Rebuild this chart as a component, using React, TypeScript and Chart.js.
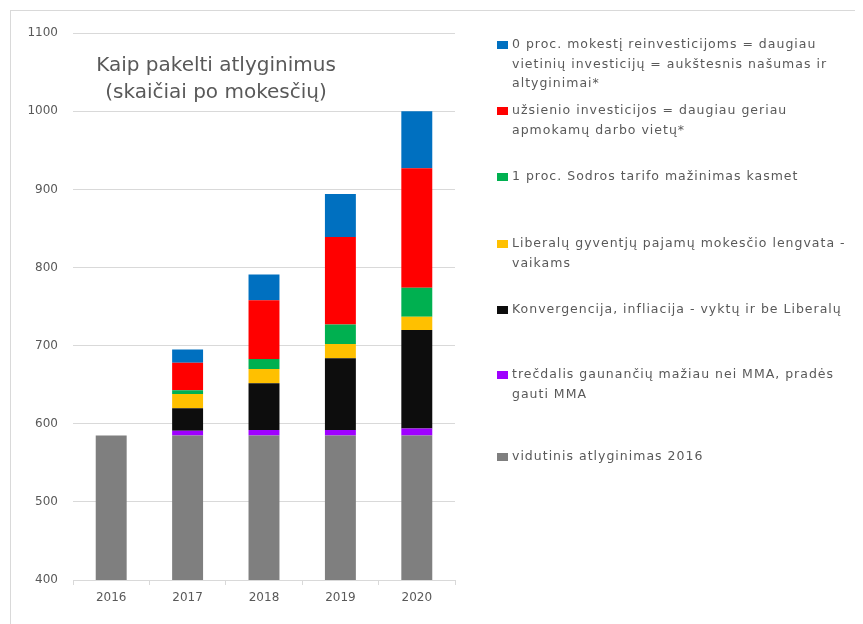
import React, { useEffect, useRef } from "react";
import { Chart, registerables } from "chart.js";

Chart.register(...registerables);

const categories = ["2016", "2017", "2018", "2019", "2020"];
const baseWage = [585, 585, 585, 585, 585];
const minWage = [0, 6, 7, 7, 9];
const convergence = [0, 29, 60, 92, 126];
const childRelief = [0, 18, 18, 18, 17];
const sodraCut = [0, 5, 13, 25, 37];
const foreignInv = [0, 35, 75, 112, 153];
const reinvest = [0, 17, 33, 55, 73];
const yTicks = [400, 500, 600, 700, 800, 900, 1000, 1100];

const titleLines = ["Kaip pakelti atlyginimus", "(skaičiai po mokesčių)"];

const legendLabels: string[][] = [
  ["0 proc. mokestį reinvesticijoms = daugiau", "vietinių investicijų = aukštesnis našumas ir", "altyginimai*"],
  ["užsienio investicijos = daugiau geriau", "apmokamų darbo vietų*"],
  ["1 proc. Sodros tarifo mažinimas kasmet"],
  ["Liberalų gyventjų pajamų mokesčio lengvata -", "vaikams"],
  ["Konvergencija, infliacija - vyktų ir be Liberalų"],
  ["trečdalis gaunančių mažiau nei MMA, pradės", "gauti MMA"],
  ["vidutinis atlyginimas 2016"],
];
const legendColors = ["#0070c0", "#ff0000", "#00b050", "#ffc000", "#0d0d0d", "#9f00ff", "#7f7f7f"];
const legendFirstLineY = [34, 100, 166, 233, 299, 364, 446];

const TEXT = "#595959";
const FONT = "'DejaVu Sans', sans-serif";

const overlayPlugin = {
  id: "overlay",
  afterDraw(chart: any) {
    const ctx = chart.ctx;
    ctx.save();
    ctx.fillStyle = TEXT;
    ctx.textAlign = "center";
    ctx.textBaseline = "middle";
    ctx.font = `20px ${FONT}`;
    ctx.fillText(titleLines[0], 205, 55);
    ctx.fillText(titleLines[1], 205, 82);

    ctx.textAlign = "left";
    ctx.font = `12.5px ${FONT}`;
    (ctx as any).letterSpacing = "1px";
    legendLabels.forEach((lines, i) => {
      const y0 = legendFirstLineY[i];
      ctx.fillStyle = legendColors[i];
      ctx.fillRect(486, y0 - 4, 11, 8);
      ctx.fillStyle = TEXT;
      lines.forEach((ln, j) => {
        ctx.fillText(ln, 501, y0 + j * 19.5);
      });
    });
    ctx.restore();
  },
};

export default function App() {
  const ref = useRef<HTMLCanvasElement>(null);
  useEffect(() => {
    if (!ref.current) return;
    const mk = (label: string, data: number[], color: string) => ({
      label,
      data,
      backgroundColor: color,
      borderWidth: 0,
      barPercentage: 0.405,
      categoryPercentage: 1,
      stack: "s",
    });
    const chart = new Chart(ref.current, {
      type: "bar",
      data: {
        labels: categories,
        datasets: [
          mk(legendLabels[6].join(" "), baseWage, legendColors[6]),
          mk(legendLabels[5].join(" "), minWage, legendColors[5]),
          mk(legendLabels[4].join(" "), convergence, legendColors[4]),
          mk(legendLabels[3].join(" "), childRelief, legendColors[3]),
          mk(legendLabels[2].join(" "), sodraCut, legendColors[2]),
          mk(legendLabels[1].join(" "), foreignInv, legendColors[1]),
          mk(legendLabels[0].join(" "), reinvest, legendColors[0]),
        ],
      },
      options: {
        animation: false,
        responsive: false,
        layout: { padding: { top: 22, right: 402, left: 0, bottom: 0 } },
        plugins: { legend: { display: false }, tooltip: { enabled: false }, title: { display: false } },
        scales: {
          x: {
            stacked: true,
            grid: { drawOnChartArea: false, color: "#d9d9d9", tickLength: 5, offset: true },
            border: { color: "#d9d9d9" },
            ticks: { color: TEXT, font: { family: FONT, size: 12 }, padding: 6 },
            afterFit: (s: any) => { s.height = 45; },
          },
          y: {
            stacked: true,
            min: yTicks[0],
            max: yTicks[yTicks.length - 1],
            afterBuildTicks: (s: any) => { s.ticks = yTicks.map((v) => ({ value: v })); },
            grid: { color: "#d9d9d9", drawTicks: false },
            border: { display: false },
            ticks: { color: TEXT, font: { family: FONT, size: 12 }, padding: 15, callback: (v: any) => String(v) },
            afterFit: (s: any) => { s.width = 62; },
          },
        },
      },
      plugins: [overlayPlugin],
    });
    return () => chart.destroy();
  }, []);
  return (
    <div style={{ margin: "2px 0 0 2px", width: 848, height: 616, border: "1px solid #d9d9d9", boxSizing: "border-box" }}>
      <canvas ref={ref} width={846} height={614} style={{ display: "block" }} />
    </div>
  );
}
